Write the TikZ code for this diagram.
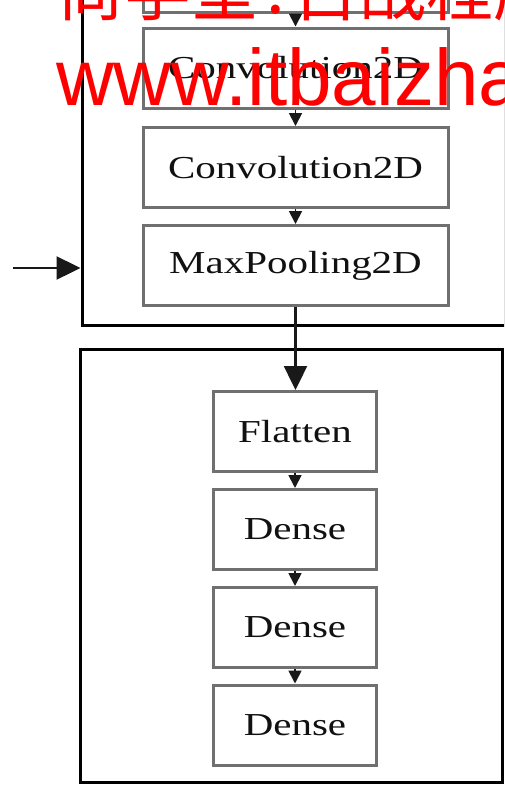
\documentclass[tikz,border=0pt]{standalone}
\usepackage{fontspec}
\setmainfont{Liberation Serif}
\newfontfamily\cjkfont{Noto Sans CJK SC}
\newfontfamily\wmfont{Liberation Sans}
\usetikzlibrary{arrows.meta}
\definecolor{boxgray}{HTML}{707070}
\definecolor{txt}{HTML}{111111}
\tikzset{
  layerbox/.style={draw=boxgray, line width=3pt, rectangle, fill=white,
    minimum width=305pt, minimum height=80pt, inner sep=0pt, text=txt,
    font=\fontsize{32}{38}\selectfont},
  denbox/.style={layerbox, minimum width=163pt},
  frame/.style={draw=black, line width=3pt, rectangle, inner sep=0pt},
  smallconn/.style={draw=black!90, line width=1.8pt, -{Triangle[width=13pt,length=13pt]}},
  bigconn/.style={draw=black!90, line width=2.4pt, -{Triangle[width=23pt,length=24pt]}},
  wm/.style={anchor=base west, inner sep=0pt, text=red}
}
\newcommand{\wide}[1]{\scalebox{1.28}[1]{#1}}
\begin{document}
\begin{tikzpicture}[x=1pt,y=-1pt]
\useasboundingbox (0,0) rectangle (504,785);
\clip (0,0) rectangle (504,785);
\fill[white] (0,0) rectangle (504,785);
% frames
\node[frame, minimum width=423pt, minimum height=375pt] (f1) at (293.5,137.5) {};
\node[frame, minimum width=422pt, minimum height=433pt] (f2) at (291,565.5) {};
% top group
\node[layerbox] (p0) at (295.5,-28) {};
\node[layerbox] (c1) at (295.5,68) {\wide{Convolution2D}};
\node[layerbox] (c2) at (295.5,167.5) {\wide{Convolution2D}};
\node[layerbox] (mp) at (295.5,265.5) {\wide{MaxPooling2D}};
% bottom group
\node[denbox] (fl) at (295,431.5) {\wide{Flatten}};
\node[denbox] (d1) at (295,529.5) {\wide{Dense}};
\node[denbox] (d2) at (295,627.5) {\wide{Dense}};
\node[denbox] (d3) at (295,725) {\wide{Dense}};
% connectors
\draw[smallconn] (p0.south) -- (c1.north);
\draw[smallconn] (c1.south) -- (c2.north);
\draw[smallconn] (c2.south) -- (mp.north);
\draw[bigconn] (mp.south) -- (mp.south |- fl.north);
\draw[smallconn] (fl.south) -- (d1.north);
\draw[smallconn] (d1.south) -- (d2.north);
\draw[smallconn] (d2.south) -- (d3.north);
\coordinate (in) at (13,268);
\draw[bigconn] (in) -- (in -| f1.west);
% watermark
\node[wm, font=\cjkfont\fontsize{67}{67}\selectfont] (wm1) at (57.5,15.3) {尚学堂\makebox[33.5pt]{\raisebox{2pt}{.}}百战程序员};
\node[wm, font=\wmfont\fontsize{80}{80}\selectfont] (wm2) at (56,105) {www.itbaizhan.com};
\end{tikzpicture}
\end{document}
